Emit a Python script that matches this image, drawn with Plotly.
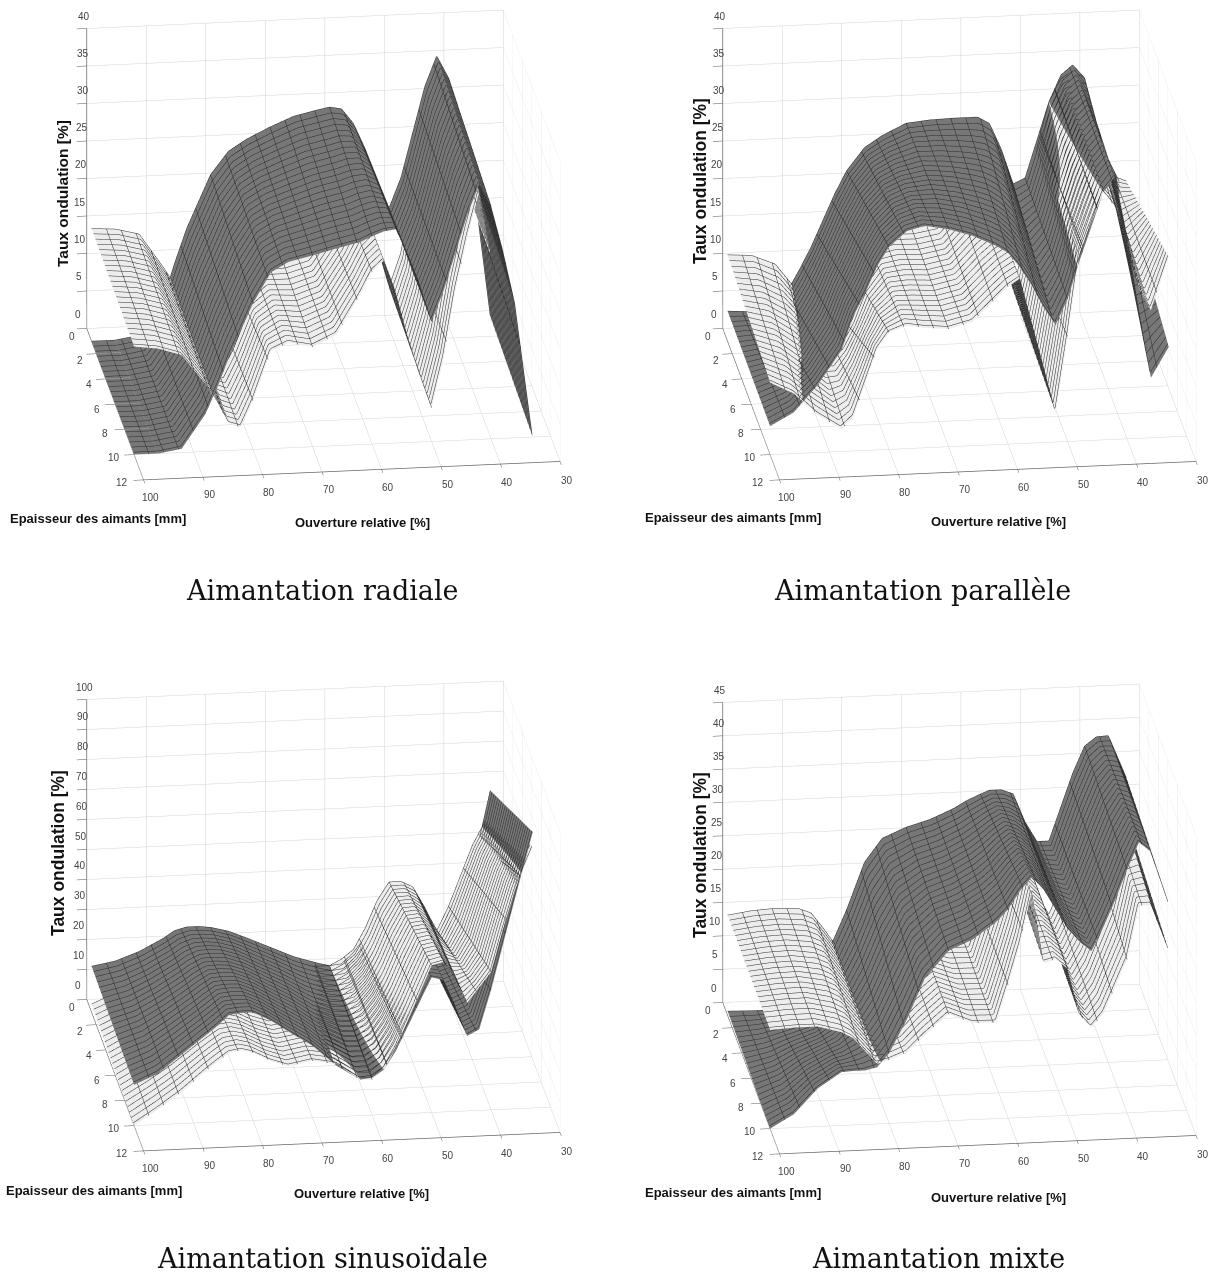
import plotly.graph_objects as go

OUVERTURE = [100,96,92,88,86,84,82,80,77,74,70,66,62,60,58,56,54,52,50,48,46,44,42,40,38,36,33]
EPAISSEUR = [1, 10]
TICK_X = [100,90,80,70,60,50,40,30]
TICK_Y = [0,2,4,6,8,10,12]

RAD_DARK_BACK  = [0,0,0.5,5,10,14.5,18,21.5,24.5,26,27.5,28.8,29.5,29.8,29.5,27.5,24,20,16,20,26,32,36,33,27,20,1]
RAD_DARK_FRONT = [0,0,0.5,5,8.5,12.5,16,19.5,23.5,24.8,25.5,26.3,27,27.7,28.3,28.5,25,21,16,20,25,30,34,31,25,18,0]
RAD_LIGHT_BACK = [15,14.8,14,9.5,7,4.5,3.5,6,11,14,14.5,15,19,22,24,20,16,11,5.5,10,20,29,35,24,None,None,None]
RAD_LIGHT_FRONT= [14.4,14,13,9,6.5,3.5,3,6.5,13,14,13.3,14.8,20,23,24.4,20,14,9,4.5,11,20,27,33,24,None,None,None]

PAR_DARK_BACK  = [4,3.8,3.5,9,12,15.5,19,22,25,26.5,28,28.3,28.4,28.4,28.4,27.5,24,19.3,20,25,30,33.5,34.8,33,27,22,17]
PAR_DARK_FRONT = [3.8,5.5,9,13.5,18,21,24.5,27,29,29.6,29,28,26.5,25.5,23.5,21,18,15.6,19,24,28.5,33,35,27,17,8,12]
PAR_LIGHT_BACK = [11.5,11.3,10,6,4,3,4.5,10,15,16,16,16.5,20,21,22,18,12,5,12,24,30,33,34,33,25,20,19]
PAR_LIGHT_FRONT= [9.6,8,5,3,4.5,9,13.5,15.6,16.4,16,15.7,16.5,19.5,21,22,16,10,3.9,14,25,29,33,31,26,20,17,24]

SIN_DARK_BACK  = [15.3,16.7,19.5,23.5,26,27,27,26.5,25,22.5,19,15.5,13,12,12.4,16,21,28,35,36,28,16,17,20,30,42,68]
SIN_DARK_FRONT = [13.6,17,23,29,32,35.5,36,36,33,29,24,17,12,12.5,15,21,29,37,45,44,35,25,27,40,55,70,92]
SIN_LIGHT_BACK = [2.7,6,10,14,16,18,18,17,14,12,13,13,12,12,14,17,24,33,39,39,37,30,22,30,40,50,61]
SIN_LIGHT_FRONT= [0,5,10.5,17,20,22.8,23.5,22.5,19.5,17.5,19,17.5,12,11.8,15,22,31,40,49,50,44,36,41,46,60,73,87]

MIX_DARK_BACK  = [0.6,0.5,0.5,1,3,7,11,15,22,25.5,27,28,29.5,30.5,31.3,32,32,31.3,27,24,24,29,34,38,39.3,39.4,33]
MIX_DARK_FRONT = [0,2,5.7,8,8.1,8.1,8.5,10.5,15.5,21.5,25.5,27,29.5,31.3,34,36,34,31,28,26,24.5,28,32,36.5,40.5,39,31]
MIX_LIGHT_BACK = [15,15.5,15.7,15.5,14.8,12.5,10,7,9,13,16,15,15,20,25,30,25,24,22,16,13,17,22,27,33,35,27]
MIX_LIGHT_FRONT= [14.8,15,15,14,13,11,9,9.5,10.5,13,16,14.5,14.4,20,26,34,23,23.5,22,15,13,15,19,23,31,31,24]

# caption, sheets, zmax, zstep, panel offset, caption centre, epaisseur centre, ouverture centre, taux centre + font
PANELS = [
    ("Aimantation radiale", RAD_DARK_BACK, RAD_DARK_FRONT, RAD_LIGHT_BACK, RAD_LIGHT_FRONT, 40, 5, 0, 0,
     (322, 590), (98, 519), (362, 522), (63, 194, 15.5)),
    ("Aimantation parallèle", PAR_DARK_BACK, PAR_DARK_FRONT, PAR_LIGHT_BACK, PAR_LIGHT_FRONT, 40, 5, 636, 0,
     (922, 590), (733, 517), (998, 521), (700, 181, 17.5)),
    ("Aimantation sinusoïdale", SIN_DARK_BACK, SIN_DARK_FRONT, SIN_LIGHT_BACK, SIN_LIGHT_FRONT, 100, 10, 0, 671,
     (322, 1258), (94, 1190), (361, 1193), (58, 853, 17.5)),
    ("Aimantation mixte", MIX_DARK_BACK, MIX_DARK_FRONT, MIX_LIGHT_BACK, MIX_LIGHT_FRONT, 45, 5, 636, 674,
     (938, 1258), (733, 1192), (998, 1197), (700, 855, 17.5)),
]

W, H = 1210, 1275
DARK, LIGHT = "#777777", "#ededed"
EYE = 3.0
fig = go.Figure()
ann = []
TICK_FONT = dict(family="Liberation Sans", size=10, color="#444444")


def sheet(back, front, colour, scene):
    return go.Surface(
        x=OUVERTURE, y=EPAISSEUR, z=[back, front], scene=scene,
        colorscale=[[0, colour], [1, colour]], showscale=False, hoverinfo="skip",
        lighting=dict(ambient=1, diffuse=0, specular=0, fresnel=0),
        contours=dict(
            x=dict(show=True, start=32.5, end=100, size=2.5, color="#2a2a2a", width=1),
            y=dict(show=True, start=1, end=10, size=0.4, color="#2a2a2a", width=1),
        ),
    )


def axis(rng, tickvals, ticklen=8):
    return dict(
        range=rng, tickvals=tickvals, title=dict(text=""), showbackground=False,
        gridcolor="#d2d2d2", gridwidth=1, zeroline=False, showspikes=False,
        showline=True, linecolor="#666666", linewidth=1.5, ticks="outside",
        ticklen=ticklen, tickcolor="#555555", tickwidth=1, mirror=False, tickangle=0,
        tickfont=TICK_FONT, showticklabels=False,
    )


CX, CY, CZ = -0.0577, -0.0051, -0.0374

for i, (cap, db, df, lb, lf, zmax, zstep, ox, oy, pc, pe, po, pt) in enumerate(PANELS):
    sid = "scene" if i == 0 else f"scene{i+1}"
    fig.add_trace(sheet(db, df, DARK, sid))
    fig.add_trace(sheet(lb, lf, LIGHT, sid))
    x0, x1 = (45 + ox) / W, min((573 + ox) / W, 1)
    y0, y1 = 1 - (510 + oy) / H, 1 - oy / H
    zticks = list(range(0, zmax + 1, zstep))
    fig.layout[sid] = dict(
        domain=dict(x=[x0, x1], y=[y0, y1]),
        aspectmode="manual", aspectratio=dict(x=1.647, y=1.741, z=1.253),
        xaxis=axis([100, 30], TICK_X, ticklen=10),
        yaxis=axis([12, 0], TICK_Y, ticklen=10),
        zaxis=axis([0, zmax], zticks, ticklen=4),
        camera=dict(
            projection=dict(type="orthographic"),
            eye=dict(x=-0.120 * EYE + CX, y=-0.932 * EYE + CY, z=0.344 * EYE + CZ),
            center=dict(x=CX, y=CY, z=CZ), up=dict(x=0, y=0, z=1),
        ),
        bgcolor="white",
    )
    for v in zticks:
        ann.append(dict(x=(78 + 6 * v / zmax + ox) / W, y=1 - (314 - 298 * v / zmax + oy) / H,
                        text=str(v), font=TICK_FONT))
    for v in TICK_X:
        t = (100 - v) / 70
        ann.append(dict(x=(150 + 417 * t + ox) / W, y=1 - (497 - 17 * t + oy) / H,
                        text=str(v), font=TICK_FONT))
    for v in TICK_Y:
        t = v / 12
        ann.append(dict(x=(72 + 50 * t + ox) / W, y=1 - (336 + 146 * t + oy) / H,
                        text=str(v), font=TICK_FONT))
    ann.append(dict(x=pc[0] / W, y=1 - pc[1] / H, text=cap,
                    font=dict(family="DejaVu Serif", size=27, color="#111111")))
    ann.append(dict(x=pe[0] / W, y=1 - pe[1] / H, text="Epaisseur des aimants [mm]",
                    font=dict(family="Liberation Sans", size=13, color="#111111", weight="bold")))
    ann.append(dict(x=po[0] / W, y=1 - po[1] / H, text="Ouverture relative [%]",
                    font=dict(family="Liberation Sans", size=13, color="#111111", weight="bold")))
    ann.append(dict(x=pt[0] / W, y=1 - pt[1] / H, text="Taux ondulation [%]", textangle=-90,
                    font=dict(family="Liberation Sans", size=pt[2], color="#111111", weight="bold")))

for a in ann:
    a.update(xref="paper", yref="paper", showarrow=False, xanchor="center", yanchor="middle")

fig.update_layout(width=W, height=H, autosize=False, margin=dict(l=0, r=0, t=0, b=0),
                  paper_bgcolor="white", showlegend=False, annotations=ann)
fig.write_html("out.html", config=dict(displayModeBar=False),
               post_script="document.body.style.margin='0';document.body.style.overflow='hidden';")
